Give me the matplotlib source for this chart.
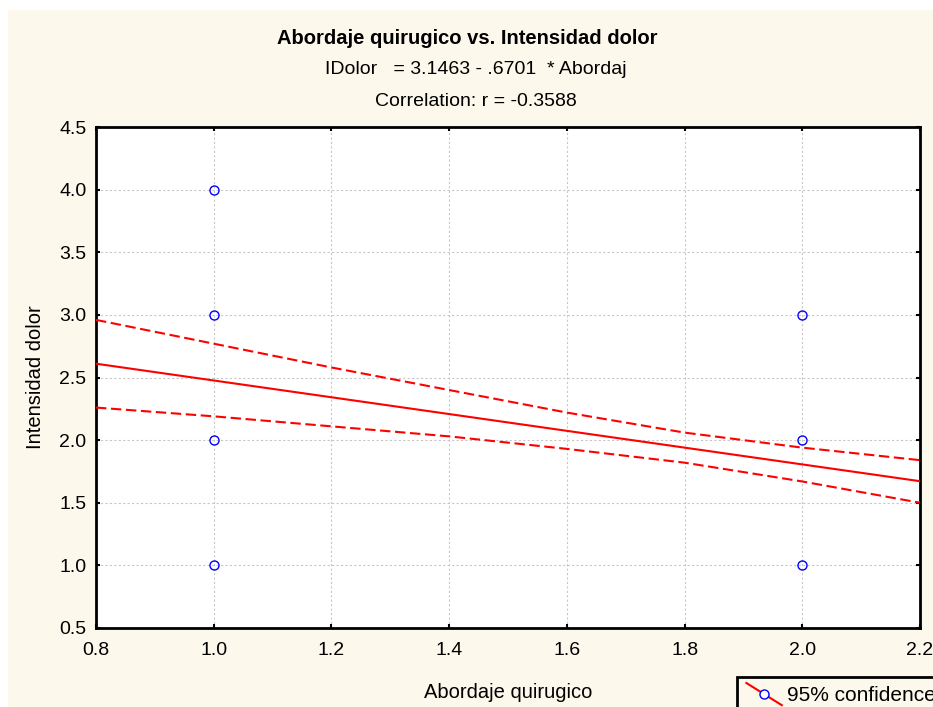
#!/usr/bin/env python3
# -*- coding: utf-8 -*

import matplotlib
matplotlib.use("Agg")
import matplotlib.pyplot as plt
from matplotlib.legend_handler import HandlerLine2D
from matplotlib.lines import Line2D
from matplotlib.patches import Rectangle

COLOR_BG = "#fdf8ec"
COLOR_FIT = "#ff0000"
COLOR_PTS = "#0000ff"

# observed points
abordaje = [1, 1, 1, 1, 2, 2, 2]
dolor = [1, 2, 3, 4, 1, 2, 3]

# regression from the title: IDolor = 3.1463 - .6701 * Abordaj
intercept = 3.1463
slope = -0.6701

# 95% confidence band
band_x = [0.8, 1.0, 1.2, 1.4, 1.6, 1.8, 2.0, 2.2]
band_hi = [2.96, 2.77, 2.58, 2.40, 2.22, 2.06, 1.94, 1.84]
band_lo = [2.26, 2.19, 2.11, 2.03, 1.93, 1.82, 1.67, 1.50]

x_ticks = [0.8, 1.0, 1.2, 1.4, 1.6, 1.8, 2.0, 2.2]
y_ticks = [0.5, 1.0, 1.5, 2.0, 2.5, 3.0, 3.5, 4.0, 4.5]

plt.rcParams["font.family"] = ["Liberation Sans", "DejaVu Sans"]


class HandlerDiag(HandlerLine2D):
    # diagonal line with the marker in the middle, like the original
    def create_artists(self, legend, orig_handle, xdescent, ydescent,
                       width, height, fontsize, trans):
        cy = height / 2. - ydescent
        line = Line2D([0, width], [cy + 8, cy - 8], color=orig_handle.get_color(),
                      linewidth=orig_handle.get_linewidth())
        mark = Line2D([width / 2.], [cy], marker="o", linestyle="",
                      markersize=orig_handle.get_markersize(),
                      markerfacecolor="white",
                      markeredgecolor=orig_handle.get_markeredgecolor())
        line.set_transform(trans)
        mark.set_transform(trans)
        return [line, mark]


fig = plt.figure(figsize=(9.33, 7.07), dpi=100, facecolor="white")
fig.patches.append(Rectangle((8 / 933., 0), 1, 697 / 707., transform=fig.transFigure,
                             facecolor=COLOR_BG, edgecolor="none", zorder=-10))

ax = fig.add_axes([96 / 933., 1 - 628 / 707., 824 / 933., 501 / 707.])
ax.set_facecolor("white")

fit_x = [x_ticks[0], x_ticks[-1]]
fit_y = [intercept + slope * v for v in fit_x]
ax.plot(fit_x, fit_y, color=COLOR_FIT, linewidth=1.5, zorder=3)
ax.plot(band_x, band_hi, color=COLOR_FIT, linewidth=1.5, dashes=(5, 2.2), zorder=3)
ax.plot(band_x, band_lo, color=COLOR_FIT, linewidth=1.5, dashes=(5, 2.2), zorder=3)
ax.plot(abordaje, dolor, linestyle="", marker="o", markersize=6.5,
        markerfacecolor="none", markeredgecolor=COLOR_PTS, markeredgewidth=1.0, zorder=4)

ax.set_xlim(0.8, 2.2)
ax.set_ylim(0.5, 4.5)
ax.set_xticks(x_ticks)
ax.set_yticks(y_ticks)
ax.set_xticklabels(["%.1f" % v for v in x_ticks])
ax.set_yticklabels(["%.1f" % v for v in y_ticks])
ax.tick_params(direction="in", length=3, width=1.5, top=True, right=True,
               labelsize=14)
ax.tick_params(axis="x", pad=10)
ax.tick_params(axis="y", pad=7)
ax.grid(color="#c8c8c8", linestyle=(0, (2, 2)), linewidth=0.8)
for s in ax.spines.values():
    s.set_linewidth(2)
    s.set_color("black")

ax.set_xlabel("Abordaje quirugico", fontsize=14.5, labelpad=17)
ax.set_ylabel("Intensidad dolor", fontsize=14.5, labelpad=10)

fig.text(467 / 933., 1 - 38 / 707., "Abordaje quirugico vs. Intensidad dolor",
         ha="center", va="center", fontsize=14.5, fontweight="bold")
fig.text(476 / 933., 1 - 69 / 707., "IDolor   = 3.1463 - .6701  * Abordaj",
         ha="center", va="center", fontsize=14)
fig.text(476 / 933., 1 - 101 / 707., "Correlation: r = -0.3588",
         ha="center", va="center", fontsize=14)

handle = Line2D([], [], color=COLOR_FIT, linewidth=1.5, marker="o", markersize=6.5,
                markerfacecolor="none", markeredgecolor=COLOR_PTS)
leg = fig.legend([handle], ["95% confidence"], loc="upper left",
                 bbox_to_anchor=(737 / 933., 1 - 677 / 707.), frameon=True,
                 fancybox=False, edgecolor="black", facecolor=COLOR_BG, framealpha=1,
                 fontsize=15, handlelength=1.7, handletextpad=0.25, borderpad=0.45,
                 borderaxespad=0, handler_map={Line2D: HandlerDiag()})
leg.get_frame().set_linewidth(2)

fig.savefig("out.png", dpi=100, facecolor=fig.get_facecolor())
